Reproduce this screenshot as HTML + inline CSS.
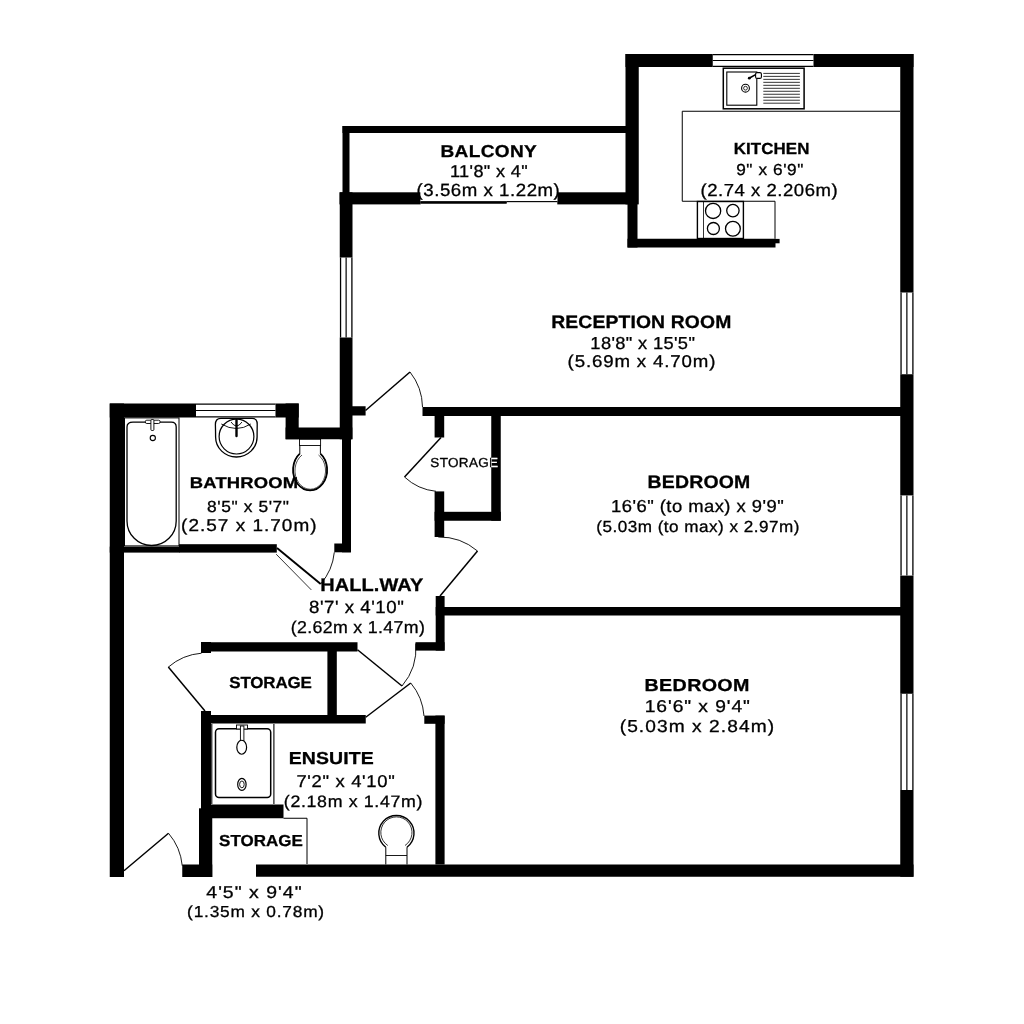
<!DOCTYPE html>
<html><head><meta charset="utf-8"><title>Floor plan</title>
<style>html,body{margin:0;padding:0;background:#fff;width:1024px;height:1024px;overflow:hidden}svg{display:block;will-change:transform;text-rendering:geometricPrecision;font-family:"Liberation Sans",sans-serif}</style>
</head><body>
<svg width="1024" height="1024" viewBox="0 0 1024 1024">
<rect width="1024" height="1024" fill="#fff"/>
<rect x="625.5" y="54" width="87.25" height="13.00" fill="#000"/><rect x="813.5" y="54" width="100.00" height="13.00" fill="#000"/><rect x="625.5" y="54" width="13.25" height="150.40" fill="#000"/><rect x="627.5" y="204" width="10.00" height="43.50" fill="#000"/><rect x="627.5" y="238.75" width="148.00" height="8.75" fill="#000"/><rect x="775" y="238.9" width="4.60" height="4.40" fill="#000"/><rect x="900.25" y="54" width="13.25" height="238.50" fill="#000"/><rect x="900.25" y="374.25" width="13.25" height="121.15" fill="#000"/><rect x="900.25" y="575.6" width="13.25" height="118.15" fill="#000"/><rect x="900.25" y="790" width="13.25" height="86.75" fill="#000"/><rect x="342.5" y="126" width="285.50" height="7.00" fill="#000"/><rect x="342.5" y="126" width="7.00" height="69.00" fill="#000"/><rect x="339.5" y="192.3" width="81.10" height="12.10" fill="#000"/><rect x="557.3" y="192.3" width="70.70" height="12.10" fill="#000"/><rect x="339.75" y="192.3" width="12.75" height="65.20" fill="#000"/><rect x="339.75" y="337.5" width="12.75" height="101.75" fill="#000"/><rect x="422.5" y="407" width="490.50" height="9.00" fill="#000"/><rect x="352" y="406.25" width="13.60" height="9.25" fill="#000"/><rect x="109.75" y="403.5" width="86.25" height="14.00" fill="#000"/><rect x="275.5" y="403.5" width="23.20" height="14.00" fill="#000"/><rect x="285.6" y="403.5" width="13.10" height="35.75" fill="#000"/><rect x="285.6" y="427.5" width="66.70" height="11.75" fill="#000"/><rect x="342" y="439" width="9.00" height="113.30" fill="#000"/><rect x="334.3" y="543.5" width="16.50" height="8.80" fill="#000"/><rect x="109.75" y="546.6" width="69.75" height="6.00" fill="#000"/><rect x="179" y="544.2" width="97.80" height="8.40" fill="#000"/><rect x="109.75" y="403.5" width="14.25" height="473.50" fill="#000"/><rect x="434.6" y="416" width="9.60" height="21.50" fill="#000"/><rect x="491.25" y="416" width="9.50" height="104.75" fill="#000"/><rect x="434.6" y="511.8" width="66.15" height="8.95" fill="#000"/><rect x="434.6" y="491.4" width="9.60" height="45.60" fill="#000"/><rect x="435.7" y="596" width="8.90" height="54.60" fill="#000"/><rect x="435.7" y="607" width="477.30" height="8.50" fill="#000"/><rect x="415.5" y="642.2" width="29.10" height="8.40" fill="#000"/><rect x="201" y="642.25" width="156.50" height="9.25" fill="#000"/><rect x="327.4" y="651" width="9.40" height="64.50" fill="#000"/><rect x="201" y="715" width="164.75" height="8.50" fill="#000"/><rect x="201" y="642" width="10.00" height="11.00" fill="#000"/><rect x="201" y="711" width="10.00" height="97.50" fill="#000"/><rect x="201" y="804.5" width="82.50" height="13.75" fill="#000"/><rect x="199" y="808.3" width="13.25" height="68.70" fill="#000"/><rect x="435.4" y="715.6" width="9.20" height="148.90" fill="#000"/><rect x="424.3" y="715.6" width="20.30" height="8.20" fill="#000"/><rect x="256" y="864.5" width="657.50" height="12.25" fill="#000"/><rect x="182.25" y="864.5" width="30.00" height="12.50" fill="#000"/>
<path d="M900,111.25 H682.25 V201.25 H775 V238.75" fill="none" stroke="#000" stroke-width="1"/><rect x="723.3" y="68.2" width="80.8" height="40.6" fill="#fff" stroke="#000" stroke-width="1.5"/><rect x="726.8" y="72" width="30" height="33.2" fill="none" stroke="#000" stroke-width="1.1"/><line x1="763.3" y1="73.4" x2="799.9" y2="73.4" stroke="#000" stroke-width="0.8"/><line x1="763.3" y1="76.38000000000001" x2="799.9" y2="76.38000000000001" stroke="#000" stroke-width="0.8"/><line x1="763.3" y1="79.36" x2="799.9" y2="79.36" stroke="#000" stroke-width="0.8"/><line x1="763.3" y1="82.34" x2="799.9" y2="82.34" stroke="#000" stroke-width="0.8"/><line x1="763.3" y1="85.32000000000001" x2="799.9" y2="85.32000000000001" stroke="#000" stroke-width="0.8"/><line x1="763.3" y1="88.30000000000001" x2="799.9" y2="88.30000000000001" stroke="#000" stroke-width="0.8"/><line x1="763.3" y1="91.28" x2="799.9" y2="91.28" stroke="#000" stroke-width="0.8"/><line x1="763.3" y1="94.26" x2="799.9" y2="94.26" stroke="#000" stroke-width="0.8"/><line x1="763.3" y1="97.24000000000001" x2="799.9" y2="97.24000000000001" stroke="#000" stroke-width="0.8"/><line x1="763.3" y1="100.22" x2="799.9" y2="100.22" stroke="#000" stroke-width="0.8"/><line x1="763.3" y1="103.2" x2="799.9" y2="103.2" stroke="#000" stroke-width="0.8"/><circle cx="745.5" cy="88.2" r="3.9" fill="none" stroke="#000" stroke-width="1.1"/><circle cx="745.5" cy="88.2" r="1.9" fill="none" stroke="#000" stroke-width="0.8"/><path d="M749.5,78 L757,73.8" fill="none" stroke="#000" stroke-width="1.5" stroke-linecap="round"/><circle cx="749.3" cy="78.2" r="1.4" fill="#000"/><rect x="755.6" y="72.6" width="5.8" height="5.8" rx="1.5" fill="#fff" stroke="#000" stroke-width="1.1"/><rect x="697.4" y="201.5" width="46" height="37" fill="#fff" stroke="#000" stroke-width="1.4"/><line x1="703.5" y1="201.25" x2="703.5" y2="238.25" stroke="#000" stroke-width="0.8"/><circle cx="713.1" cy="210.9" r="7.6" fill="none" stroke="#000" stroke-width="1.3"/><circle cx="732.9" cy="210.6" r="6.2" fill="none" stroke="#000" stroke-width="1.3"/><circle cx="713.4" cy="228.5" r="6.0" fill="none" stroke="#000" stroke-width="1.3"/><circle cx="732.9" cy="228.7" r="7.4" fill="none" stroke="#000" stroke-width="1.3"/><rect x="124.5" y="417.9" width="54.5" height="128" fill="none" stroke="#000" stroke-width="1"/><path d="M133,422.1 H171.3 Q176.2,422.1 176.2,427 V520.9 A24.6,24.6 0 0 1 127,520.9 V427 Q127,422.1 133,422.1 Z" fill="none" stroke="#000" stroke-width="1.3"/><circle cx="152.8" cy="438" r="2.6" fill="none" stroke="#000" stroke-width="1.1"/><rect x="145.3" y="420.2" width="14.8" height="3.3" rx="1.5" fill="#fff" stroke="#000" stroke-width="0.9"/><rect x="150.9" y="419.5" width="3" height="11" rx="1" fill="#fff" stroke="#000" stroke-width="0.9"/><path d="M221,418.3 H252 Q257.5,418.3 257.2,425 Q257.1,432 257.1,437 A20.75,20 0 0 1 215.6,437 Q215.6,432 215.4,425 Q215.2,418.3 221,418.3 Z" fill="none" stroke="#000" stroke-width="1.3"/><circle cx="236.5" cy="436.6" r="17.4" fill="none" stroke="#000" stroke-width="1.2"/><path d="M221.3,424 Q236.5,433 250.8,424" fill="none" stroke="#000" stroke-width="0.9"/><path d="M231,422 Q236.5,430 242,422" fill="none" stroke="#000" stroke-width="0.9"/><path d="M236.5,420 V436" fill="none" stroke="#000" stroke-width="2.4" stroke-linecap="round"/><rect x="299.5" y="439.25" width="21.1" height="6.2" fill="none" stroke="#000" stroke-width="0.9"/><path d="M299.8,445.4 V453.6 A17,20.5 0 1 0 320.4,453.6 V445.4" fill="none" stroke="#000" stroke-width="1"/><path d="M299.8,453.6 A17,20.5 0 1 0 320.4,453.6" fill="none" stroke="#000" stroke-width="1.7"/><path d="M302,455 A15.3,18.6 0 1 0 318.5,455" fill="none" stroke="#000" stroke-width="0.7"/><path d="M211.8,724 V803.9 M273.9,724 V803.9" fill="none" stroke="#000" stroke-width="1.1"/><rect x="215.5" y="728.7" width="55.2" height="68.8" rx="3.5" fill="none" stroke="#000" stroke-width="1.5"/><rect x="236.5" y="725" width="11" height="4" fill="#fff" stroke="#000" stroke-width="0.9"/><rect x="240.4" y="726" width="3.5" height="15" fill="#fff" stroke="#000" stroke-width="0.9"/><ellipse cx="241.7" cy="747.25" rx="4.9" ry="7" fill="#fff" stroke="#000" stroke-width="1.2"/><ellipse cx="241.9" cy="784.4" rx="4.2" ry="6" fill="none" stroke="#000" stroke-width="1.2"/><ellipse cx="241.9" cy="784.4" rx="2.3" ry="3.4" fill="none" stroke="#000" stroke-width="0.9"/><path d="M385.8,864.5 V847.2 M407,864.5 V847.2" fill="none" stroke="#000" stroke-width="1"/><path d="M385.8,847.2 A17.6,17.6 0 1 1 407,847.2" fill="none" stroke="#000" stroke-width="1.4"/><path d="M387.8,845.5 A15.6,15.6 0 1 1 405,845.5" fill="none" stroke="#000" stroke-width="0.8"/><line x1="385.8" y1="855.5" x2="407" y2="855.5" stroke="#000" stroke-width="0.9"/><path d="M283.5,818.25 H307 V864" fill="none" stroke="#000" stroke-width="1"/>
<line x1="712.75" y1="54.7" x2="813.5" y2="54.7" stroke="#000" stroke-width="1.3"/><line x1="712.75" y1="60.5" x2="813.5" y2="60.5" stroke="#000" stroke-width="1.2"/><line x1="712.75" y1="66.4" x2="813.5" y2="66.4" stroke="#000" stroke-width="1.3"/><line x1="196" y1="404.2" x2="275.5" y2="404.2" stroke="#000" stroke-width="1.3"/><line x1="196" y1="410.5" x2="275.5" y2="410.5" stroke="#000" stroke-width="1.2"/><line x1="196" y1="416.9" x2="275.5" y2="416.9" stroke="#000" stroke-width="1.3"/><line x1="340.55" y1="257.5" x2="340.55" y2="337.5" stroke="#000" stroke-width="1.3"/><line x1="346.125" y1="257.5" x2="346.125" y2="337.5" stroke="#000" stroke-width="1.2"/><line x1="351.9" y1="257.5" x2="351.9" y2="337.5" stroke="#000" stroke-width="1.3"/><line x1="901.05" y1="292.5" x2="901.05" y2="374.25" stroke="#000" stroke-width="1.3"/><line x1="906.875" y1="292.5" x2="906.875" y2="374.25" stroke="#000" stroke-width="1.2"/><line x1="912.9" y1="292.5" x2="912.9" y2="374.25" stroke="#000" stroke-width="1.3"/><line x1="901.05" y1="495.4" x2="901.05" y2="575.6" stroke="#000" stroke-width="1.3"/><line x1="906.875" y1="495.4" x2="906.875" y2="575.6" stroke="#000" stroke-width="1.2"/><line x1="912.9" y1="495.4" x2="912.9" y2="575.6" stroke="#000" stroke-width="1.3"/><line x1="901.05" y1="693.75" x2="901.05" y2="790" stroke="#000" stroke-width="1.3"/><line x1="906.875" y1="693.75" x2="906.875" y2="790" stroke="#000" stroke-width="1.2"/><line x1="912.9" y1="693.75" x2="912.9" y2="790" stroke="#000" stroke-width="1.3"/><line x1="420.6" y1="202.4" x2="506.6" y2="202.4" stroke="#000" stroke-width="2.2"/><line x1="506.6" y1="201.6" x2="557.3" y2="201.6" stroke="#000" stroke-width="1"/><line x1="365.5" y1="410.5" x2="410" y2="372" stroke="#000" stroke-width="1.5"/><path d="M410,372 A58.0,58.0 0 0 1 422.5,407" fill="none" stroke="#000" stroke-width="0.9"/><line x1="441" y1="437.5" x2="404.5" y2="477" stroke="#000" stroke-width="1.5"/><path d="M404.5,477 A53.9,53.9 0 0 0 436,491.3" fill="none" stroke="#000" stroke-width="0.9"/><line x1="440" y1="596" x2="477.5" y2="551" stroke="#000" stroke-width="1.5"/><path d="M477.5,551 A58.8,58.8 0 0 0 438.25,537" fill="none" stroke="#000" stroke-width="0.9"/><line x1="277" y1="547.9" x2="320.7" y2="584" stroke="#000" stroke-width="1.9"/><path d="M320.7,584 A57.1,57.1 0 0 0 334.3,552.3" fill="none" stroke="#000" stroke-width="0.9"/><line x1="276.2" y1="554.2" x2="311.3" y2="589.9" stroke="#000" stroke-width="0.8"/><line x1="205" y1="711" x2="168.3" y2="667.1" stroke="#000" stroke-width="1.5"/><path d="M168.3,667.1 A57.6,57.6 0 0 1 201.5,653.2" fill="none" stroke="#000" stroke-width="0.9"/><line x1="357.5" y1="649.75" x2="402" y2="686" stroke="#000" stroke-width="1.5"/><path d="M402,686 A58.0,58.0 0 0 0 415.75,643.5" fill="none" stroke="#000" stroke-width="0.9"/><line x1="365.75" y1="717.25" x2="410.75" y2="683" stroke="#000" stroke-width="1.5"/><path d="M410.75,683 A57.4,57.4 0 0 1 424,716" fill="none" stroke="#000" stroke-width="0.9"/><line x1="124" y1="870.75" x2="168.5" y2="833.25" stroke="#000" stroke-width="1.5"/><path d="M168.5,833.25 A58.3,58.3 0 0 1 182.25,865.75" fill="none" stroke="#000" stroke-width="0.9"/>
<rect x="420.6" y="186" width="136.70" height="15.30" fill="#fff"/>
<path d="M420.6,202.4 H506.6" stroke="#000" stroke-width="2.2"/><path d="M506.6,201.6 H557.3" stroke="#000" stroke-width="1"/>
<g fill="#000" stroke="#000" stroke-width="0.3">
<text transform="translate(440.42,157.35) scale(1.1081,1)" font-size="17.20" font-weight="bold" textLength="86.96" lengthAdjust="spacing">BALCONY</text>
<text transform="translate(450.02,176.74) scale(1.0517,1)" font-size="17.20" font-weight="normal" textLength="73.87" lengthAdjust="spacing">11&#x27;8&quot; x 4&quot;</text>
<text transform="translate(416.51,195.99) scale(1.0544,1)" font-size="17.69" font-weight="normal" textLength="135.93" lengthAdjust="spacing">(3.56m x 1.22m)</text>
<text transform="translate(733.76,153.70) scale(1.0582,1)" font-size="15.97" font-weight="bold" textLength="71.52" lengthAdjust="spacing">KITCHEN</text>
<text transform="translate(736.16,175.44) scale(1.0796,1)" font-size="15.97" font-weight="normal" textLength="62.25" lengthAdjust="spacing">9&quot; x 6&#x27;9&quot;</text>
<text transform="translate(700.49,195.85) scale(1.0636,1)" font-size="17.41" font-weight="normal" textLength="128.90" lengthAdjust="spacing">(2.74 x 2.206m)</text>
<text transform="translate(551.16,328.31) scale(1.0745,1)" font-size="18.00" font-weight="bold" textLength="167.68" lengthAdjust="spacing">RECEPTION ROOM</text>
<text transform="translate(590.37,349.48) scale(1.0542,1)" font-size="17.34" font-weight="normal" textLength="99.13" lengthAdjust="spacing">18&#x27;8&quot; x 15&#x27;5&quot;</text>
<text transform="translate(567.62,367.29) scale(1.0909,1)" font-size="17.11" font-weight="normal" textLength="135.43" lengthAdjust="spacing">(5.69m x 4.70m)</text>
<text transform="translate(189.85,488.30) scale(1.1803,1)" font-size="15.58" font-weight="bold" textLength="91.77" lengthAdjust="spacing">BATHROOM</text>
<text transform="translate(207.10,511.85) scale(1.0797,1)" font-size="16.09" font-weight="normal" textLength="75.86" lengthAdjust="spacing">8&#x27;5&quot; x 5&#x27;7&quot;</text>
<text transform="translate(181.09,531.12) scale(1.1023,1)" font-size="17.21" font-weight="normal" textLength="122.86" lengthAdjust="spacing">(2.57 x 1.70m)</text>
<text transform="translate(430.36,467.35) scale(1.0333,1)" font-size="13.09" font-weight="normal" textLength="65.56" lengthAdjust="spacing">STORAGE</text>
<text transform="translate(647.50,488.35) scale(1.0799,1)" font-size="18.02" font-weight="bold" textLength="95.19" lengthAdjust="spacing">BEDROOM</text>
<text transform="translate(611.05,511.98) scale(1.0607,1)" font-size="17.38" font-weight="normal" textLength="162.79" lengthAdjust="spacing">16&#x27;6&quot; (to max) x 9&#x27;9&quot;</text>
<text transform="translate(596.25,532.16) scale(1.0649,1)" font-size="16.06" font-weight="normal" textLength="190.82" lengthAdjust="spacing">(5.03m (to max) x 2.97m)</text>
<text transform="translate(320.32,590.89) scale(1.0857,1)" font-size="18.38" font-weight="bold" textLength="94.80" lengthAdjust="spacing">HALL.WAY</text>
<text transform="translate(309.05,612.83) scale(1.0584,1)" font-size="17.67" font-weight="normal" textLength="89.52" lengthAdjust="spacing">8&#x27;7&#x27; x 4&#x27;10&quot;</text>
<text transform="translate(290.68,632.93) scale(1.0403,1)" font-size="17.08" font-weight="normal" textLength="128.96" lengthAdjust="spacing">(2.62m x 1.47m)</text>
<text transform="translate(229.23,688.38) scale(1.0556,1)" font-size="16.02" font-weight="bold" textLength="78.28" lengthAdjust="spacing">STORAGE</text>
<text transform="translate(644.54,690.82) scale(1.1353,1)" font-size="17.34" font-weight="bold" textLength="92.36" lengthAdjust="spacing">BEDROOM</text>
<text transform="translate(644.72,711.74) scale(1.1250,1)" font-size="17.12" font-weight="normal" textLength="93.56" lengthAdjust="spacing">16&#x27;6&quot; x 9&#x27;4&quot;</text>
<text transform="translate(619.70,732.05) scale(1.1086,1)" font-size="17.29" font-weight="normal" textLength="139.24" lengthAdjust="spacing">(5.03m x 2.84m)</text>
<text transform="translate(288.68,764.26) scale(1.1257,1)" font-size="17.31" font-weight="bold" textLength="75.50" lengthAdjust="spacing">ENSUITE</text>
<text transform="translate(296.44,786.82) scale(1.0816,1)" font-size="17.05" font-weight="normal" textLength="90.88" lengthAdjust="spacing">7&#x27;2&quot; x 4&#x27;10&quot;</text>
<text transform="translate(283.82,806.59) scale(1.0739,1)" font-size="16.54" font-weight="normal" textLength="129.09" lengthAdjust="spacing">(2.18m x 1.47m)</text>
<text transform="translate(219.09,845.63) scale(1.0640,1)" font-size="15.94" font-weight="bold" textLength="78.59" lengthAdjust="spacing">STORAGE</text>
<text transform="translate(206.32,898.22) scale(1.1270,1)" font-size="17.27" font-weight="normal" textLength="84.54" lengthAdjust="spacing">4&#x27;5&quot; x 9&#x27;4&quot;</text>
<text transform="translate(187.08,917.40) scale(1.0855,1)" font-size="15.94" font-weight="normal" textLength="126.25" lengthAdjust="spacing">(1.35m x 0.78m)</text>
</g>
<clipPath id="c1"><rect x="491.25" y="416" width="9.5" height="104.75"/></clipPath>
<g clip-path="url(#c1)"><text transform="translate(430.36,467.35) scale(1.0333,1)" font-size="13.09" textLength="65.56" lengthAdjust="spacing" fill="#fff" stroke="#fff" stroke-width="0.3">STORAGE</text></g>
</svg>
</body></html>
